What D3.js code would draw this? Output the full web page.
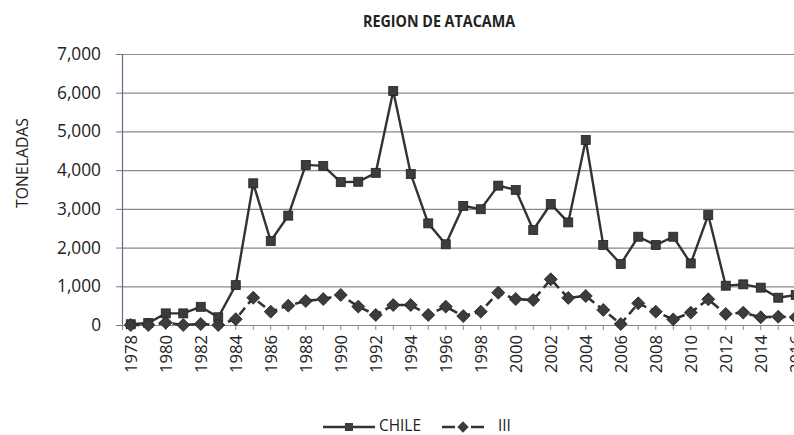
<!DOCTYPE html>
<html>
  <head>
    <script src="https://d3js.org/d3.v7.min.js"></script>
    <style>
      body { margin: 0; background: #fff; }
      text { font-family: "Open Sans", Lato, sans-serif; fill: #222; }
    </style>
  </head>
  <body>
    <svg width="794" height="435"></svg>
    <script>
      // data
      const years = d3.range(1978, 2017);
      const chile = [20, 50, 300, 300, 470, 200, 1030, 3660, 2170, 2825,
        4135, 4110, 3690, 3700, 3930, 6045, 3900, 2625, 2085, 3075,
        2990, 3600, 3490, 2455, 3125, 2650, 4780, 2065, 1575, 2280,
        2065, 2280, 1590, 2840, 1015, 1050, 965, 705, 775];
      const region3 = [0, 0, 60, 0, 25, 0, 150, 705, 345, 500,
        620, 670, 775, 475, 260, 515, 515, 260, 475, 230,
        345, 835, 670, 645, 1180, 700, 750, 390, 25, 560,
        345, 145, 320, 665, 285, 320, 200, 215, 200];
      const yTicks = [0, 1000, 2000, 3000, 4000, 5000, 6000, 7000];

      const plotLeft = 122, plotTop = 54, plotBottom = 325;
      const step = 17.5;

      const svg = d3.select('svg');

      // pick a font size so that a sample text gets a given width
      function fitSize(sample, width, weight) {
        const t = svg.append('text').style('font-size', '20px')
            .style('font-weight', weight || 'normal').text(sample);
        const w = t.node().getComputedTextLength();
        t.remove();
        return 20 * width / w;
      }

      const x = d3.scaleBand()
          .domain(years)
          .range([plotLeft, plotLeft + step * years.length])
          .padding(0);

      const y = d3.scaleLinear()
          .domain([0, 7000])
          .range([plotBottom, plotTop]);

      const cx = (d) => x(d) + x.bandwidth() / 2;

      // gridlines
      svg.append('g')
          .attr('transform', `translate(${plotLeft}, 0)`)
          .call(d3.axisLeft(y).tickValues(yTicks).tickSize(-(794 - plotLeft)).tickFormat(''))
          .call(g => g.select('.domain').remove())
          .call(g => g.selectAll('line').attr('stroke', '#8a8a8a').attr('stroke-width', 1.2));

      // y axis
      const ySize = fitSize('7,000', 44);
      const yAxis = svg.append('g')
          .attr('transform', `translate(${plotLeft}, 0)`)
          .call(d3.axisLeft(y).tickValues(yTicks).tickSize(6).tickPadding(15).tickFormat(d3.format(',')));
      yAxis.select('.domain').attr('stroke', '#5a6f8a').attr('stroke-width', 1.2);
      yAxis.selectAll('line').attr('stroke', '#777');
      yAxis.selectAll('text').style('font-size', ySize + 'px').attr('fill', '#222');

      // x axis
      const xSize = fitSize('1978', 38);
      const xAxis = svg.append('g')
          .attr('transform', `translate(0, ${plotBottom})`)
          .call(d3.axisBottom(x).tickSize(5).tickFormat(d => (d % 2 === 0 ? d : '')));
      xAxis.select('.domain').attr('stroke', '#888');
      xAxis.selectAll('line').attr('stroke', '#888');
      xAxis.selectAll('text')
          .style('font-size', xSize + 'px')
          .attr('fill', '#222')
          .attr('transform', 'rotate(-90)')
          .attr('text-anchor', 'end')
          .attr('x', -10)
          .attr('y', 0)
          .attr('dy', '0.35em');

      // CHILE line
      const line = d3.line().x((d, i) => cx(years[i])).y(d => y(d));
      svg.append('path')
          .datum(chile)
          .attr('d', line)
          .attr('fill', 'none')
          .attr('stroke', '#333')
          .attr('stroke-width', 2.4);
      svg.append('g').selectAll('rect')
          .data(chile)
          .enter()
          .append('rect')
          .attr('x', (d, i) => cx(years[i]) - 4.5)
          .attr('y', d => y(d) - 4.5)
          .attr('width', 9)
          .attr('height', 9)
          .attr('fill', '#3c3c3c')
          .attr('stroke', '#222')
          .attr('stroke-width', 0.8);

      // III line
      svg.append('path')
          .datum(region3)
          .attr('d', line)
          .attr('fill', 'none')
          .attr('stroke', '#333')
          .attr('stroke-width', 2.6)
          .attr('stroke-dasharray', '9,5');
      const diamond = d3.symbol().type(d3.symbolSquare).size(84);
      svg.append('g').selectAll('path')
          .data(region3)
          .enter()
          .append('path')
          .attr('d', diamond)
          .attr('transform', (d, i) => `translate(${cx(years[i])}, ${y(d)}) rotate(45)`)
          .attr('fill', '#3c3c3c')
          .attr('stroke', '#222')
          .attr('stroke-width', 0.8);

      // title (Calibri-like narrow bold: squeeze to the reference width)
      svg.append('text')
          .attr('x', 363)
          .attr('y', 27)
          .attr('textLength', 152)
          .attr('lengthAdjust', 'spacingAndGlyphs')
          .style('font-size', '16.5px')
          .style('font-weight', 'bold')
          .text('REGION DE ATACAMA');

      svg.append('text')
          .attr('transform', 'translate(28, 163) rotate(-90)')
          .attr('text-anchor', 'middle')
          .style('font-size', fitSize('TONELADAS', 90) + 'px')
          .text('TONELADAS');

      // legend
      const lSize = fitSize('CHILE', 42);
      const lg = svg.append('g');
      lg.append('line').attr('x1', 323).attr('x2', 375).attr('y1', 427).attr('y2', 427)
          .attr('stroke', '#333').attr('stroke-width', 2.4);
      lg.append('rect').attr('x', 345).attr('y', 423).attr('width', 8).attr('height', 8)
          .attr('fill', '#3c3c3c');
      lg.append('text').attr('x', 379).attr('y', 431).style('font-size', lSize + 'px').text('CHILE');
      lg.append('line').attr('x1', 442).attr('x2', 484).attr('y1', 427).attr('y2', 427)
          .attr('stroke', '#333').attr('stroke-width', 2.6).attr('stroke-dasharray', '13,16');
      lg.append('path').attr('d', d3.symbol().type(d3.symbolSquare).size(64))
          .attr('transform', 'translate(463, 427) rotate(45)')
          .attr('fill', '#3c3c3c');
      lg.append('text').attr('x', 498).attr('y', 431).style('font-size', lSize + 'px').text('III');
    </script>
  </body>
</html>
